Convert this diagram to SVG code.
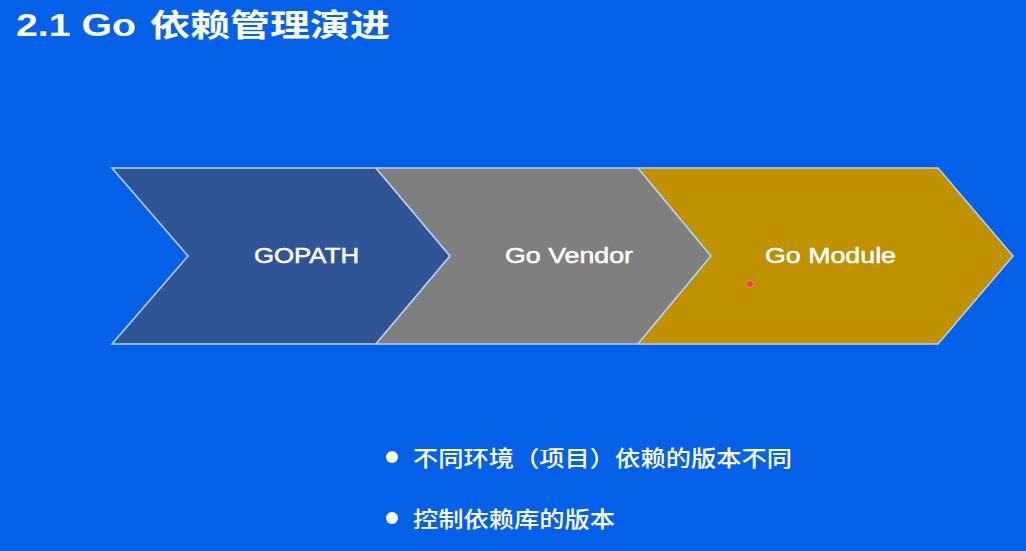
<svg xmlns="http://www.w3.org/2000/svg" width="1026" height="551" viewBox="0 0 1026 551">
<style>
.t{fill:#ffffff;font-family:"Liberation Sans","Noto Sans CJK SC",sans-serif;}
.title{font-size:31px;font-weight:bold;}
.lbl{font-size:22px;stroke:#ffffff;stroke-width:0.5;}
.cn{font-size:22px;font-weight:500;font-family:"Noto Sans CJK SC","Liberation Sans",sans-serif;fill:#ffffff;}
.chev{stroke:#b4cdef;stroke-width:1.6;stroke-linejoin:miter;}
</style>
<rect x="0" y="0" width="1026" height="551" fill="#0560e8"/>
<g id="title">
<text class="t title" x="16" y="36" textLength="120" lengthAdjust="spacingAndGlyphs">2.1 Go</text>
<text class="t title" x="150" y="36" textLength="240" lengthAdjust="spacingAndGlyphs" style="font-family:'Noto Sans CJK SC',sans-serif">依赖管理演进</text>
</g>
<g id="connectors"></g>
<g id="gopath">
<polygon class="chev" fill="#2f5597" points="112,168 376,168 450,256 376,344 112,344 188,256"/>
<text class="t lbl" x="254" y="263" textLength="105" lengthAdjust="spacingAndGlyphs">GOPATH</text>
</g>
<g id="govendor">
<polygon class="chev" fill="#7f7f7f" points="376,168 638,168 711,256 638,344 376,344 450,256"/>
<text class="t lbl" x="505" y="263" textLength="128" lengthAdjust="spacingAndGlyphs">Go Vendor</text>
</g>
<g id="gomodule">
<polygon class="chev" fill="#bf9000" points="638,168 938,168 1013,256 938,344 638,344 711,256"/>
<text class="t lbl" x="765" y="263" textLength="131" lengthAdjust="spacingAndGlyphs">Go Module</text>
</g>
<circle cx="750" cy="284" r="3.5" fill="#e8453c" stroke="#f08a70" stroke-width="1"/>
<g id="bullets">
<circle cx="392" cy="457" r="6" fill="#ffffff"/>
<text class="cn" x="413" y="466" textLength="379" lengthAdjust="spacingAndGlyphs">不同环境（项目）依赖的版本不同</text>
<circle cx="392" cy="518" r="6" fill="#ffffff"/>
<text class="cn" x="413" y="527" textLength="202" lengthAdjust="spacingAndGlyphs">控制依赖库的版本</text>
</g>
</svg>
